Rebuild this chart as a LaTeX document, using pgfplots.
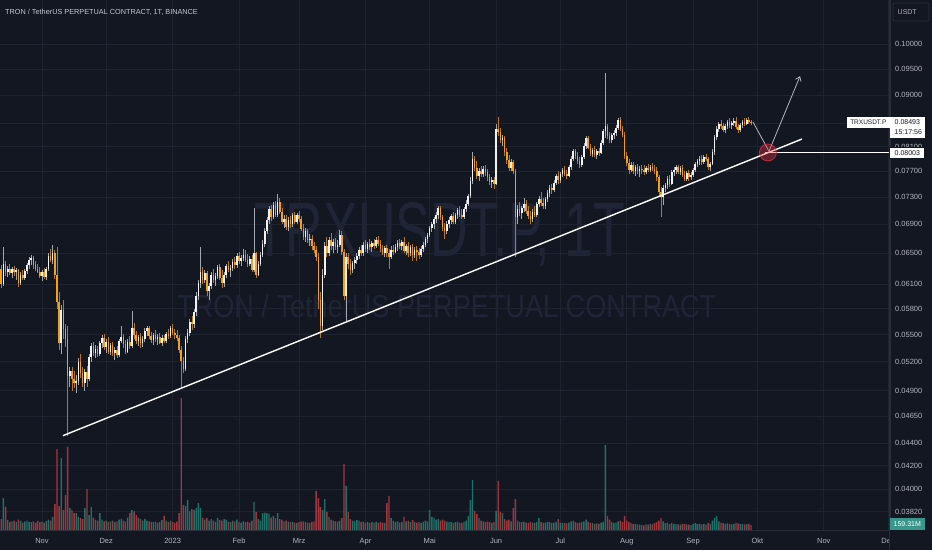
\documentclass[border=0pt]{standalone}
\usepackage{graphicx}
\usepackage{pgfplots}
\pgfplotsset{compat=1.18}
\usepackage{pgfplotstable}
\usepackage{fontspec}
\setmainfont{Liberation Sans}
\usetikzlibrary{arrows.meta}
\definecolor{bg}{HTML}{131722}
\definecolor{gridc}{HTML}{1F2330}
\definecolor{axc}{HTML}{2A2E39}
\definecolor{upc}{HTML}{F2F2F2}
\definecolor{dnc}{HTML}{F5A01A}
\definecolor{upw}{HTML}{A3A6AD}
\definecolor{dnw}{HTML}{B8781C}
\definecolor{vup}{HTML}{1F736B}
\definecolor{vdn}{HTML}{A3363D}
\definecolor{txt}{HTML}{B2B5BE}
\definecolor{ttl}{HTML}{C6C9D1}
\definecolor{wm}{HTML}{202437}
\definecolor{annot}{HTML}{B2B5BE}
\definecolor{circ}{HTML}{F23645}
\definecolor{vlab}{HTML}{3A968B}

\pgfplotstableread{
d o h l c v
-19 .0630 .0634 .0605 .0610 350
-18 .0610 .0659 .0608 .0636 1020
-17 .0636 .0640 .0620 .0626 740
-16 .0626 .0633 .0619 .0630 320
-15 .0630 .0636 .0622 .0624 260
-14 .0624 .0632 .0618 .0629 280
-13 .0629 .0633 .0621 .0625 300
-12 .0625 .0631 .0616 .0628 250
-11 .0628 .0630 .0607 .0612 330
-10 .0612 .0626 .0609 .0622 290
-9 .0622 .0628 .0615 .0618 240
-8 .0618 .0630 .0616 .0627 270
-7 .0627 .0637 .0623 .0634 300
-6 .0634 .0645 .0630 .0641 260
-5 .0641 .0648 .0635 .0644 250
-4 .0644 .0646 .0630 .0634 280
-3 .0634 .0640 .0627 .0630 230
-2 .0630 .0636 .0624 .0626 300
-1 .0626 .0632 .0618 .0621 250
0 .0621 .0628 .0614 .0625 270
1 .0625 .0631 .0617 .0619 240
2 .0619 .0632 .0616 .0630 290
3 .0630 .0650 .0627 .0646 330
4 .0646 .0656 .0638 .0641 300
5 .0641 .0662 .0636 .0650 420
6 .0650 .0655 .0617 .0622 830
7 .0622 .0659 .0580 .0588 2590
8 .0588 .0600 .0533 .0540 770
9 .0540 .0585 .0528 .0578 2300
10 .0578 .0590 .0545 .0556 640
11 .0556 .0562 .0536 .0545 1120
12 .0545 .0560 .0446 .0505 2660
13 .0505 .0515 .0494 .0510 700
14 .0510 .0514 .0490 .0502 640
15 .0502 .0510 .0493 .0498 540
16 .0498 .0506 .0488 .0500 540
17 .0500 .0524 .0496 .0520 420
18 .0520 .0528 .0503 .0508 380
19 .0508 .0515 .0494 .0498 350
20 .0498 .0512 .0490 .0509 700
21 .0509 .0516 .0494 .0502 1310
22 .0502 .0528 .0500 .0525 480
23 .0525 .0540 .0520 .0537 740
24 .0537 .0542 .0526 .0530 400
25 .0530 .0538 .0524 .0534 330
26 .0534 .0537 .0525 .0528 300
27 .0528 .0543 .0526 .0540 540
28 .0540 .0550 .0535 .0546 330
29 .0546 .0551 .0533 .0536 280
30 .0536 .0545 .0530 .0542 300
31 .0542 .0547 .0528 .0531 260
32 .0531 .0540 .0527 .0538 280
33 .0538 .0542 .0526 .0529 300
34 .0529 .0536 .0522 .0533 250
35 .0533 .0537 .0524 .0527 280
36 .0527 .0545 .0525 .0543 330
37 .0543 .0560 .0540 .0547 360
38 .0547 .0551 .0535 .0539 300
39 .0539 .0544 .0528 .0531 270
40 .0531 .0545 .0529 .0542 400
41 .0542 .0548 .0534 .0537 550
42 .0537 .0577 .0535 .0558 640
43 .0558 .0563 .0545 .0549 600
44 .0549 .0554 .0539 .0543 480
45 .0543 .0550 .0537 .0547 400
46 .0547 .0552 .0535 .0540 350
47 .0540 .0548 .0536 .0545 300
48 .0545 .0557 .0542 .0554 360
49 .0554 .0560 .0548 .0557 300
50 .0557 .0560 .0545 .0548 280
51 .0548 .0553 .0541 .0544 260
52 .0544 .0552 .0538 .0549 250
53 .0549 .0555 .0542 .0545 270
54 .0545 .0551 .0538 .0547 240
55 .0547 .0552 .0539 .0541 260
56 .0541 .0549 .0537 .0546 320
57 .0546 .0550 .0540 .0543 450
58 .0543 .0553 .0541 .0551 300
59 .0551 .0556 .0545 .0548 260
60 .0548 .0560 .0546 .0557 300
61 .0557 .0562 .0549 .0552 250
62 .0552 .0556 .0545 .0549 230
63 .0549 .0555 .0543 .0546 270
64 .0546 .0550 .0530 .0533 540
65 .0533 .0537 .0494 .0521 4220
66 .0521 .0525 .0508 .0512 800
67 .0512 .0548 .0510 .0545 770
68 .0545 .0556 .0540 .0552 960
69 .0552 .0568 .0548 .0565 600
70 .0565 .0572 .0555 .0562 670
71 .0562 .0580 .0558 .0576 640
72 .0576 .0600 .0572 .0596 700
73 .0596 .0615 .0590 .0611 860
74 .0611 .0659 .0605 .0625 700
75 .0625 .0632 .0610 .0616 400
76 .0616 .0628 .0612 .0624 330
77 .0624 .0627 .0596 .0601 380
78 .0601 .0612 .0591 .0608 300
79 .0608 .0626 .0604 .0622 350
80 .0622 .0630 .0611 .0615 300
81 .0615 .0624 .0608 .0620 260
82 .0620 .0635 .0617 .0632 380
83 .0632 .0636 .0615 .0618 320
84 .0618 .0628 .0605 .0611 300
85 .0611 .0625 .0606 .0622 350
86 .0622 .0636 .0618 .0633 330
87 .0633 .0640 .0625 .0628 270
88 .0628 .0634 .0619 .0631 250
89 .0631 .0642 .0627 .0638 300
90 .0638 .0645 .0630 .0634 270
91 .0634 .0650 .0631 .0646 330
92 .0646 .0652 .0636 .0640 260
93 .0640 .0648 .0633 .0644 240
94 .0644 .0656 .0640 .0648 280
95 .0648 .0654 .0638 .0641 250
96 .0641 .0649 .0632 .0636 270
97 .0636 .0647 .0633 .0643 240
98 .0643 .0648 .0625 .0628 300
99 .0628 .0713 .0625 .0650 900
100 .0650 .0652 .0618 .0622 580
101 .0622 .0640 .0620 .0636 350
102 .0636 .0652 .0633 .0648 300
103 .0648 .0668 .0645 .0663 540
104 .0663 .0685 .0658 .0681 560
105 .0681 .0700 .0676 .0696 540
106 .0696 .0716 .0690 .0712 520
107 .0712 .0718 .0695 .0700 400
108 .0700 .0722 .0697 .0718 450
109 .0718 .0724 .0700 .0704 380
110 .0704 .0734 .0700 .0722 540
111 .0722 .0728 .0705 .0708 350
112 .0708 .0714 .0690 .0693 330
113 .0693 .0703 .0685 .0698 280
114 .0698 .0704 .0682 .0686 300
115 .0686 .0700 .0680 .0696 270
116 .0696 .0702 .0685 .0690 250
117 .0690 .0706 .0687 .0703 260
118 .0703 .0708 .0690 .0694 240
119 .0694 .0707 .0690 .0704 230
120 .0704 .0710 .0694 .0698 250
121 .0698 .0702 .0680 .0684 270
122 .0684 .0690 .0668 .0672 280
123 .0672 .0685 .0666 .0680 260
124 .0680 .0684 .0664 .0668 240
125 .0668 .0676 .0660 .0670 230
126 .0670 .0675 .0655 .0660 260
127 .0660 .0666 .0650 .0655 280
128 .0655 .0660 .0640 .0645 1250
129 .0645 .0650 .0580 .0590 1020
130 .0590 .0600 .0546 .0560 740
131 .0560 .0630 .0555 .0622 640
132 .0622 .0665 .0618 .0660 990
133 .0660 .0672 .0645 .0650 580
134 .0650 .0672 .0646 .0668 420
135 .0668 .0678 .0655 .0660 330
136 .0660 .0670 .0650 .0665 300
137 .0665 .0671 .0655 .0658 280
138 .0658 .0668 .0650 .0662 270
139 .0662 .0682 .0658 .0675 300
140 .0675 .0680 .0648 .0652 380
141 .0652 .0656 .0590 .0595 2110
142 .0595 .0650 .0564 .0645 1410
143 .0645 .0650 .0630 .0636 580
144 .0636 .0642 .0622 .0628 350
145 .0628 .0640 .0624 .0637 300
146 .0637 .0645 .0630 .0641 280
147 .0641 .0650 .0636 .0647 320
148 .0647 .0658 .0642 .0655 300
149 .0655 .0662 .0646 .0650 250
150 .0650 .0666 .0647 .0662 270
151 .0662 .0668 .0652 .0656 240
152 .0656 .0666 .0651 .0663 260
153 .0663 .0670 .0655 .0659 230
154 .0659 .0667 .0652 .0664 250
155 .0664 .0670 .0656 .0660 240
156 .0660 .0672 .0657 .0668 270
157 .0668 .0674 .0660 .0663 230
158 .0663 .0668 .0652 .0656 250
159 .0656 .0662 .0648 .0651 240
160 .0651 .0660 .0645 .0657 230
161 .0657 .0662 .0645 .0650 860
162 .0650 .0656 .0630 .0645 1090
163 .0645 .0660 .0642 .0655 380
164 .0655 .0662 .0648 .0652 300
165 .0652 .0663 .0650 .0659 260
166 .0659 .0668 .0653 .0664 280
167 .0664 .0670 .0656 .0660 240
168 .0660 .0668 .0654 .0665 250
169 .0665 .0672 .0650 .0653 420
170 .0653 .0663 .0648 .0660 280
171 .0660 .0665 .0645 .0650 300
172 .0650 .0662 .0646 .0658 250
173 .0658 .0663 .0640 .0648 320
174 .0648 .0658 .0644 .0655 260
175 .0655 .0660 .0640 .0652 240
176 .0652 .0657 .0643 .0648 250
177 .0648 .0660 .0645 .0656 230
178 .0656 .0665 .0652 .0662 260
179 .0662 .0672 .0658 .0670 300
180 .0670 .0678 .0664 .0675 280
181 .0675 .0688 .0672 .0685 640
182 .0685 .0694 .0679 .0690 420
183 .0690 .0700 .0684 .0697 400
184 .0697 .0708 .0692 .0703 330
185 .0703 .0717 .0698 .0713 350
186 .0713 .0716 .0696 .0700 300
187 .0700 .0704 .0680 .0686 330
188 .0686 .0692 .0670 .0680 300
189 .0680 .0695 .0677 .0690 270
190 .0690 .0700 .0685 .0696 250
191 .0696 .0705 .0690 .0702 260
192 .0702 .0708 .0690 .0693 230
193 .0693 .0706 .0690 .0704 250
194 .0704 .0714 .0698 .0711 270
195 .0711 .0717 .0700 .0704 240
196 .0704 .0712 .0698 .0701 230
197 .0701 .0715 .0698 .0712 260
198 .0712 .0725 .0708 .0720 300
199 .0720 .0735 .0716 .0731 450
200 .0731 .0760 .0728 .0755 960
201 .0755 .0801 .0750 .0790 1600
202 .0790 .0795 .0770 .0775 610
203 .0775 .0786 .0758 .0762 510
204 .0762 .0775 .0755 .0770 380
205 .0770 .0778 .0760 .0765 300
206 .0765 .0778 .0760 .0774 280
207 .0774 .0780 .0763 .0768 250
208 .0768 .0774 .0755 .0760 270
209 .0760 .0766 .0748 .0753 250
210 .0753 .0760 .0744 .0756 230
211 .0756 .0760 .0742 .0750 260
212 .0750 .0848 .0748 .0840 610
213 .0840 .0861 .0828 .0835 1570
214 .0835 .0842 .0815 .0820 580
215 .0820 .0830 .0810 .0825 540
216 .0825 .0828 .0795 .0800 350
217 .0800 .0808 .0782 .0788 300
218 .0788 .0796 .0770 .0775 330
219 .0775 .0790 .0770 .0785 280
220 .0785 .0788 .0765 .0770 700
221 .0770 .0774 .0645 .0700 990
222 .0700 .0718 .0690 .0712 300
223 .0712 .0722 .0702 .0706 260
224 .0706 .0716 .0697 .0714 250
225 .0714 .0728 .0708 .0720 270
226 .0720 .0725 .0705 .0709 240
227 .0709 .0716 .0697 .0702 230
228 .0702 .0710 .0690 .0698 250
229 .0698 .0712 .0694 .0708 240
230 .0708 .0716 .0700 .0704 220
231 .0704 .0722 .0701 .0719 260
232 .0719 .0732 .0715 .0727 380
233 .0727 .0737 .0716 .0721 250
234 .0721 .0728 .0712 .0716 230
235 .0716 .0730 .0712 .0727 240
236 .0727 .0740 .0723 .0736 260
237 .0736 .0748 .0730 .0744 250
238 .0744 .0750 .0735 .0740 220
239 .0740 .0756 .0737 .0752 240
240 .0752 .0766 .0748 .0762 260
241 .0762 .0770 .0750 .0756 350
242 .0756 .0768 .0752 .0765 240
243 .0765 .0775 .0760 .0772 230
244 .0772 .0778 .0762 .0766 220
245 .0766 .0772 .0758 .0762 210
246 .0762 .0780 .0760 .0777 240
247 .0777 .0795 .0772 .0790 280
248 .0790 .0806 .0786 .0802 300
249 .0802 .0806 .0790 .0795 250
250 .0795 .0800 .0782 .0786 230
251 .0786 .0792 .0775 .0779 240
252 .0779 .0796 .0776 .0792 250
253 .0792 .0815 .0790 .0810 280
254 .0810 .0828 .0806 .0824 330
255 .0824 .0827 .0805 .0808 260
256 .0808 .0814 .0795 .0798 230
257 .0798 .0808 .0793 .0804 220
258 .0804 .0810 .0792 .0796 200
259 .0796 .0806 .0790 .0802 210
260 .0802 .0808 .0795 .0799 200
261 .0799 .0820 .0797 .0816 240
262 .0816 .0840 .0812 .0836 250
263 .0836 .0942 .0825 .0845 2720
264 .0845 .0848 .0822 .0828 450
265 .0828 .0835 .0815 .0820 330
266 .0820 .0832 .0815 .0829 250
267 .0829 .0838 .0822 .0833 220
268 .0833 .0846 .0828 .0842 240
269 .0842 .0858 .0838 .0855 280
270 .0855 .0860 .0836 .0840 300
271 .0840 .0844 .0826 .0830 250
272 .0830 .0834 .0790 .0795 450
273 .0795 .0800 .0778 .0783 300
274 .0783 .0790 .0765 .0772 260
275 .0772 .0785 .0768 .0780 220
276 .0780 .0784 .0765 .0770 200
277 .0770 .0780 .0762 .0776 190
278 .0776 .0782 .0766 .0770 180
279 .0770 .0778 .0760 .0774 170
280 .0774 .0780 .0766 .0772 160
281 .0772 .0779 .0764 .0768 150
282 .0768 .0778 .0765 .0775 180
283 .0775 .0782 .0768 .0772 170
284 .0772 .0780 .0768 .0777 200
285 .0777 .0783 .0770 .0774 180
286 .0774 .0780 .0766 .0770 220
287 .0770 .0776 .0755 .0760 250
288 .0760 .0764 .0732 .0738 300
289 .0738 .0745 .0700 .0730 380
290 .0730 .0748 .0718 .0744 280
291 .0744 .0752 .0738 .0748 220
292 .0748 .0762 .0742 .0758 240
293 .0758 .0764 .0745 .0750 200
294 .0750 .0772 .0748 .0768 230
295 .0768 .0776 .0762 .0772 200
296 .0772 .0780 .0766 .0776 190
297 .0776 .0780 .0765 .0768 180
298 .0768 .0778 .0764 .0775 170
299 .0775 .0780 .0760 .0764 200
300 .0764 .0770 .0755 .0758 190
301 .0758 .0770 .0754 .0767 180
302 .0767 .0772 .0755 .0760 170
303 .0760 .0768 .0756 .0764 160
304 .0764 .0775 .0760 .0772 200
305 .0772 .0785 .0769 .0782 220
306 .0782 .0790 .0776 .0786 190
307 .0786 .0794 .0780 .0790 200
308 .0790 .0796 .0780 .0784 180
309 .0784 .0796 .0781 .0792 190
310 .0792 .0798 .0786 .0789 170
311 .0789 .0793 .0772 .0777 230
312 .0777 .0785 .0770 .0782 200
313 .0782 .0805 .0779 .0800 300
314 .0800 .0830 .0796 .0826 380
315 .0826 .0845 .0820 .0840 450
316 .0840 .0852 .0834 .0848 280
317 .0848 .0856 .0840 .0844 240
318 .0844 .0850 .0834 .0838 220
319 .0838 .0848 .0832 .0845 200
320 .0845 .0855 .0840 .0851 210
321 .0851 .0858 .0842 .0846 190
322 .0846 .0854 .0840 .0850 180
323 .0850 .0858 .0845 .0854 200
324 .0854 .0860 .0840 .0843 230
325 .0843 .0848 .0833 .0838 210
326 .0838 .0850 .0835 .0847 190
327 .0847 .0856 .0842 .0852 200
328 .0852 .0858 .0845 .0849 180
329 .0849 .0858 .0846 .0855 190
330 .0855 .0860 .0848 .0851 200
331 .0851 .0856 .0846 .08493 159.31
}\data

\pgfplotsset{
  upfilter/.style={x filter/.expression={\thisrow{c}<\thisrow{o} ? nan : x}},
  dnfilter/.style={x filter/.expression={\thisrow{c}<\thisrow{o} ? x : nan}},
}

\begin{document}
\begin{tikzpicture}[x=1pt,y=1pt]
\useasboundingbox (0,0) rectangle (932,550);
\fill[bg] (0,0) rectangle (932,550);
% watermark
\node[anchor=base west, inner sep=0pt, text=wm] at (254,293) {\resizebox{371pt}{54pt}{TRXUSDT.P, 1T}};
\node[anchor=base west, inner sep=0pt, text=wm] at (177,233) {\resizebox{539pt}{23pt}{TRON / TetherUS PERPETUAL CONTRACT}};

\begin{axis}[
  at={(0pt,20pt)}, anchor=south west, scale only axis,
  width=890pt, height=530pt,
  xmin=-19.6, xmax=395.9,
  ymode=log, ymin=0.036788, ymax=0.109476,
  axis x line*=bottom, axis y line*=right,
  axis line style={draw=axc, line width=0.8pt},
  major tick length=0pt,
  xtick={0,30,61,92,120,151,181,212,242,273,304,334,365,395},
  xticklabels={Nov,Dez,2023,Feb,Mrz,Apr,Mai,Jun,Jul,Aug,Sep,Okt,Nov,Dez},
  ytick={0.1,0.095,0.09,0.085,0.081,0.077,0.073,0.069,0.065,0.061,0.058,0.055,0.052,0.049,0.0465,0.044,0.042,0.04,0.0382},
  yticklabels={0.10000,0.09500,0.09000,{},0.08100,0.07700,0.07300,0.06900,0.06500,0.06100,0.05800,0.05500,0.05200,0.04900,0.04650,0.04400,0.04200,0.04000,0.03820},
  grid=major, major grid style={draw=gridc, line width=0.8pt},
  tick label style={text=txt, font=\fontsize{7.5}{9}\selectfont},
  xticklabel style={anchor=base, yshift=-13pt, inner sep=0pt},
  yticklabel style={anchor=west, inner sep=0pt, xshift=5pt},
]
% wicks up
\addplot[draw=none, mark=none, upfilter,
  error bars/.cd, y dir=plus, y explicit, error mark=none,
  error bar style={draw=upw, line width=0.75pt}]
  table[x=d, y=l, y error expr=\thisrow{h}-\thisrow{l}] {\data};
% wicks down
\addplot[draw=none, mark=none, dnfilter,
  error bars/.cd, y dir=plus, y explicit, error mark=none,
  error bar style={draw=dnw, line width=0.75pt}]
  table[x=d, y=l, y error expr=\thisrow{h}-\thisrow{l}] {\data};
% bodies up
\addplot[draw=none, mark=none, upfilter,
  error bars/.cd, y dir=plus, y explicit, error mark=none,
  error bar style={draw=upc, line width=1.6pt}]
  table[x=d, y=o, y error expr=\thisrow{c}-\thisrow{o}] {\data};
% bodies down
\addplot[draw=none, mark=none, dnfilter,
  error bars/.cd, y dir=plus, y explicit, error mark=none,
  error bar style={draw=dnc, line width=1.6pt}]
  table[x=d, y=c, y error expr=\thisrow{o}-\thisrow{c}] {\data};
% circle
\addplot[only marks, mark=*, mark size=8.5pt,
  mark options={fill=circ, fill opacity=0.35, draw=circ, draw opacity=0.7, line width=0.8pt}]
  coordinates {(338.9,0.0800)};
% trend line
\addplot[white, line width=1.4pt] coordinates {(9.8,0.04467) (354.8,0.08224)};
% horizontal level
\addplot[white, line width=1pt] coordinates {(337.5,0.08003) (395.9,0.08003)};
% projection arrow
\addplot[annot, line width=0.8pt, -{Straight Barb[length=4pt,width=6pt]}]
  coordinates {(331.9,0.0852) (339.4,0.0802) (353.9,0.0936)};
\end{axis}

\begin{axis}[
  at={(0pt,20pt)}, anchor=south west, scale only axis,
  width=890pt, height=530pt,
  xmin=-19.6, xmax=395.9, ymin=0, ymax=16960, hide axis,
]
\addplot[ybar, bar width=1.4pt, bar shift=0pt, fill=vup, draw=none, upfilter]
  table[x=d, y=v] {\data};
\addplot[ybar, bar width=1.4pt, bar shift=0pt, fill=vdn, draw=none, dnfilter]
  table[x=d, y=v] {\data};
\end{axis}

% right scale cover of bottom corner and separator
\fill[bg] (889.6,0) rectangle (932,19.6);
\draw[axc, line width=0.8pt] (889.6,0) -- (889.6,550);

% title
\node[anchor=west, inner sep=0pt, text=ttl, font=\fontsize{7.3}{8}\selectfont] at (5,538) {TRON / TetherUS PERPETUAL CONTRACT, 1T, BINANCE};
% USDT box
\draw[axc, line width=0.8pt, rounded corners=2pt] (893,529) rectangle (929,547);
\node[anchor=west, inner sep=0pt, text=txt, font=\fontsize{7}{8}\selectfont] at (897.5,538) {USDT};
% last price labels
\fill[white] (847,422) rectangle (889.6,433);
\node[inner sep=0pt, text=bg, font=\fontsize{6.5}{7}\selectfont] at (868.3,427.5) {TRXUSDT.P};
\fill[white] (889.6,412) rectangle (925,433);
\node[anchor=west, inner sep=0pt, text=bg, font=\fontsize{7}{8}\selectfont] at (894.5,428) {0.08493};
\node[anchor=west, inner sep=0pt, text=bg, font=\fontsize{7}{8}\selectfont] at (894.5,418) {15:17:56};
\filldraw[fill=white, draw=bg, line width=0.6pt] (889.6,391.5) rectangle (924.5,403);
\node[anchor=west, inner sep=0pt, text=bg, font=\fontsize{7}{8}\selectfont] at (894.5,397.3) {0.08003};
% volume label
\fill[vlab] (889.6,20.5) rectangle (925,32);
\node[inner sep=0pt, text=white, font=\fontsize{7}{8}\selectfont] at (907.3,26.2) {159.31M};
\end{tikzpicture}
\end{document}
